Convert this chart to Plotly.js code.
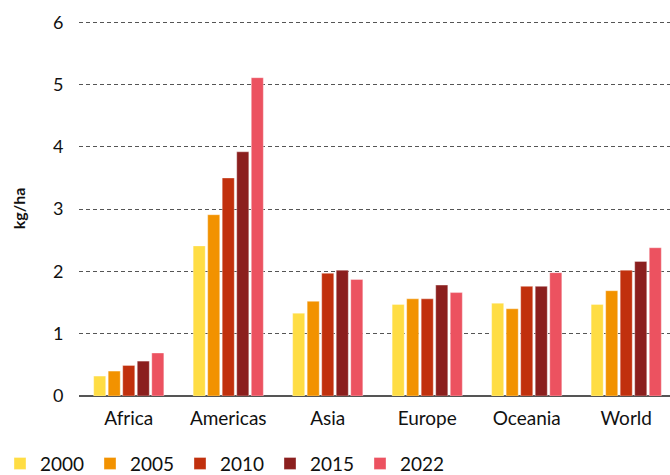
<!DOCTYPE html>
<html>
<head>
<meta charset="utf-8">
<script src="https://cdn.plot.ly/plotly-3.0.1.min.js"></script>
<style>html,body{margin:0;padding:0;background:#fff;}#chart{width:670px;height:475px;}</style>
</head>
<body>
<div id="chart"></div>
<script>
const categories = ["Africa", "Americas", "Asia", "Europe", "Oceania", "World"];
const years = ["2000", "2005", "2010", "2015", "2022"];
const v2000 = [0.32, 2.41, 1.33, 1.47, 1.49, 1.47];
const v2005 = [0.40, 2.91, 1.52, 1.56, 1.40, 1.69];
const v2010 = [0.49, 3.50, 1.97, 1.56, 1.76, 2.02];
const v2015 = [0.56, 3.92, 2.02, 1.78, 1.76, 2.16];
const v2022 = [0.69, 5.11, 1.87, 1.66, 1.98, 2.38];
const colors = ["#FFDD44", "#F29200", "#C1300D", "#8B1F1E", "#EC5260"];

const series = [v2000, v2005, v2010, v2015, v2022];
const data = series.map((vals, i) => ({
  type: "bar",
  name: years[i],
  x: categories,
  y: vals,
  marker: {color: colors[i], line: {color: "rgba(255,255,255,0.35)", width: 1}},
  hoverinfo: "y"
}));

const font = "Lato, 'Open Sans', sans-serif";
const layout = {
  width: 670, height: 475,
  margin: {l: 79, r: 0, t: 20.7, b: 79.3},
  paper_bgcolor: "#fff", plot_bgcolor: "#fff",
  font: {family: font, size: 18, color: "#111"},
  barmode: "group",
  bargap: 0.27,
  bargroupgap: 0.17,
  showlegend: true,
  legend: {
    orientation: "h",
    xref: "container", yref: "container",
    x: -0.026, y: 0.064, xanchor: "left", yanchor: "top",
    font: {family: font, size: 19, color: "#111"},
    entrywidth: 45, entrywidthmode: "pixels",
    itemclick: false, itemdoubleclick: false
  },
  xaxis: {
    type: "category",
    range: [-0.5, 5.44],
    showgrid: false, showline: false, zeroline: false,
    ticks: "outside", ticklen: 5, tickcolor: "rgba(0,0,0,0)",
    tickfont: {family: font, size: 19, color: "#111"},
    fixedrange: true
  },
  yaxis: {
    range: [0, 6.02],
    tickvals: [0, 1, 2, 3, 4, 5, 6],
    showgrid: true, gridcolor: "#555", gridwidth: 1, griddash: "4px,3px",
    zeroline: true, zerolinecolor: "#555", zerolinewidth: 2,
    showline: false,
    ticks: "outside", ticklen: 11, tickcolor: "rgba(0,0,0,0)",
    tickfont: {family: font, size: 18, color: "#111"},
    title: {text: "<b>kg/ha</b>", font: {family: font, size: 16, color: "#111"}, standoff: 23},
    automargin: false,
    fixedrange: true
  }
};

Plotly.newPlot("chart", data, layout, {displayModeBar: false, staticPlot: true});
</script>
</body>
</html>
